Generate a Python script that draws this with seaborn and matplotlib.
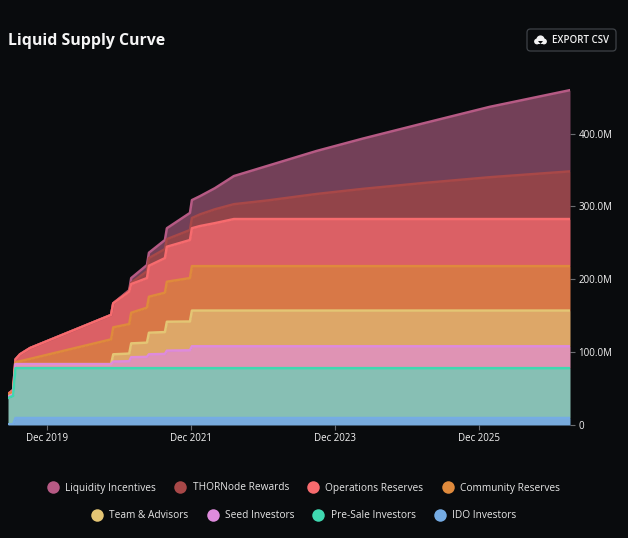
import pandas as pd
import numpy as np
import matplotlib
matplotlib.use("Agg")
import matplotlib.pyplot as plt
from matplotlib.patches import FancyBboxPatch, Circle, Polygon, Rectangle
from matplotlib.lines import Line2D
import seaborn as sns

dates = ["2019-05-17","2019-06-12","2019-06-24","2019-07-17","2019-09-06","2020-10-21","2020-11-01",
         "2021-01-21","2021-01-31","2021-04-21","2021-05-01","2021-07-21","2021-07-31","2021-11-25",
         "2021-12-05","2022-01-15","2022-04-01","2022-07-06","2022-12-20","2023-08-29","2024-04-20",
         "2025-02-19","2026-01-24","2027-03-07"]

# cumulative top of each stacked band, in millions
ido = [1,1,9.6,9.6,9.6,9.6,9.6,9.6,9.6,9.6,9.6,9.6,9.6,9.6,9.6,9.6,9.6,9.6,9.6,9.6,9.6,9.6,9.6,9.6]
presale = [37,40,78,78,78,78,78,78,78,78,78,78,78,78,78,78,78,78,78,78,78,78,78,78]
seed = [39,42,83.5,83.5,83.5,83.5,87,87.5,93,93.5,97,97.5,102,102.5,108,108,108,108,108,108,108,108,108,108]
team = [39,42,83.5,83.5,83.5,83.5,97,98,112,113,126.6,127.5,141.7,142,157,157,157,157,157,157,157,157,157,157]
community = [42,45,86,87.5,90.7,117.5,134,138.5,154,161,176,181.5,196.6,201.6,218,218,218,218,218,218,218,218,218,218]
operations = [42.5,48,90,97,105.6,151,167,183,193.4,201.6,218.5,229,244.6,253.8,270,273,277,282.6,282.6,282.6,282.6,282.6,282.6,282.6]
thornode = [42.5,48,90,97,105.6,151,167,184,195,211,229,241.4,255,267.5,284,289,296,303,308,317,324,332,340,348]
liquidity = [42.5,48,90,97,105.6,151,167,185,201.6,219.5,236.4,253.8,270,291,308.6,314,325,341.6,355.3,376,393,413.8,436.6,459.5]

names = ["Liquidity Incentives","THORNode Rewards","Operations Reserves","Community Reserves",
         "Team & Advisors","Seed Investors","Pre-Sale Investors","IDO Investors"]
line_colors = ["#B65A84","#A84848","#F76B6E","#DF8A3C","#E4C574","#DE8BDC","#3FD8B0","#75ACE4"]
fill_colors = ["#734058","#924449","#DB6065","#D87847","#DDA768","#DF93B4","#87BFB4","#78ABDC"]
y_ticks = [0,100,200,300,400]
y_labels = ["0","100.0M","200.0M","300.0M","400.0M"]
x_ticks = ["2019-12-01","2021-12-01","2023-12-01","2025-12-01"]
x_labels = ["Dec 2019","Dec 2021","Dec 2023","Dec 2025"]

BG = "#090B0D"
W, H = 628, 538
sns.set_theme(style="dark", rc={"axes.facecolor": BG, "figure.facecolor": BG})
plt.rcParams["font.family"] = ["Open Sans", "DejaVu Sans"]

fig = plt.figure(figsize=(W/100, H/100), dpi=100, facecolor=BG)
ax = fig.add_axes([8/W, 1-425/H, (570-8)/W, (425-70)/H], facecolor=BG)

t = pd.to_datetime(dates)
series = [liquidity, thornode, operations, community, team, seed, presale, ido]
zero = [0]*len(dates)
lowers = series[1:] + [zero]
for top, low, fc in zip(series, lowers, fill_colors):
    ax.fill_between(t, low, top, color=fc, lw=0, zorder=2)
for top, lc in zip(series, line_colors):
    sns.lineplot(x=t, y=top, color=lc, lw=1.8, ax=ax, zorder=3, estimator=None, errorbar=None, sort=False)

ax.set_xlim(t[0], t[-1])
ax.set_ylim(0, 355/0.72875)
ax.yaxis.tick_right()
ax.set_yticks(y_ticks, y_labels)
ax.set_xticks(pd.to_datetime(x_ticks), x_labels)
ax.tick_params(axis="both", labelsize=7.0, length=3.6, width=0.8, pad=2.5, color="#6b6e72",
               bottom=True, right=True, left=False)
ax.set_xlabel(""); ax.set_ylabel("")
ax.grid(False)
for s in ax.spines.values():
    s.set_visible(False)
for lbl in ax.get_xticklabels() + ax.get_yticklabels():
    lbl.set_color("#F2F2F2")

fig.text(8/W, 1-41/H, "Liquid Supply Curve", color="#F5F5F5", fontsize=11.4, fontweight="bold", va="center")

# export button
px = fig.add_axes([0, 0, 1, 1], facecolor="none", zorder=5)
px.set_xlim(0, W); px.set_ylim(H, 0); px.axis("off")
px.add_patch(FancyBboxPatch((527, 29), 89, 22, boxstyle="round,pad=0,rounding_size=3.5",
                            fc="none", ec="#3E4247", lw=0.9))
for cx, cy, r in [(537, 41.5, 2.9), (540.5, 39.5, 4.1), (544, 41.5, 2.9)]:
    px.add_patch(Circle((cx, cy), r, fc="#F2F2F2", ec="none"))
px.add_patch(Rectangle((537, 41), 7, 3.4, fc="#F2F2F2", ec="none"))
px.add_patch(Polygon([(538, 41), (543, 41), (540.5, 44)], fc=BG, ec="none"))
px.text(552, 40.5, "EXPORT CSV", color="#F2F2F2", fontsize=7.0, fontweight="semibold", va="center")

def legend_row(idx, y):
    handles = [Line2D([], [], marker="o", ls="", ms=9, mfc=line_colors[i], mec="none") for i in idx]
    return fig.legend(handles, [names[i] for i in idx], loc="center", bbox_to_anchor=(303.5/W, 1-y/H), ncol=4,
                      frameon=False, fontsize=7.3, labelcolor="#E6E6E6", handletextpad=0.6,
                      columnspacing=1.78, handlelength=1.2, borderpad=0)

legend_row([0,1,2,3], 488)
legend_row([4,5,6,7], 516)

fig.savefig("out.png", dpi=100, facecolor=BG)
